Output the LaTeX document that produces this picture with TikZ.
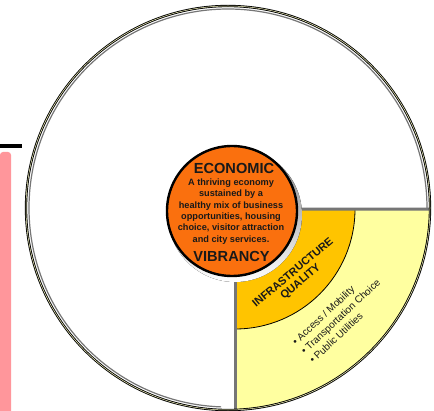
\documentclass[tikz,border=0pt]{standalone}
\usepackage{fontspec}
\setmainfont{Liberation Sans}
\usepackage{tikz}
\usetikzlibrary{positioning,calc}
\definecolor{tangerine}{RGB}{250,112,14}
\definecolor{gold}{RGB}{255,196,0}
\definecolor{pale}{RGB}{255,255,160}
\definecolor{rose}{RGB}{255,150,155}
\definecolor{slate}{RGB}{118,118,118}
\definecolor{shade}{RGB}{140,135,100}
\definecolor{ink}{RGB}{25,25,25}
\tikzset{
  rim/.style={draw=black,line width=0.9pt,double=pale!60,double distance=0.5pt},
  divider/.style={draw=slate,line width=3pt},
  hub/.style={circle,fill=tangerine,draw=black,line width=2.4pt,minimum size=130pt,inner sep=0pt},
  title/.style={font=\fontsize{14.6}{15}\selectfont\bfseries,text=ink,inner sep=0pt},
  blurb/.style={font=\fontsize{9.2}{11.4}\selectfont\bfseries,text=ink,align=center,inner sep=0pt},
  band label/.style={font=\fontsize{11}{11.8}\selectfont\bfseries,text=ink,align=center,inner sep=0pt},
  items/.style={font=\fontsize{10}{12.6}\selectfont,text=ink,align=left,inner sep=0pt},
}
\begin{document}
\begin{tikzpicture}[x=1pt,y=1pt]
  \useasboundingbox (0,0) rectangle (434,410);
  % side marks
  \fill[rose,rounded corners=3pt] (0,-5) rectangle (11,258);
  \fill[black] (0,262) rectangle (22,266);
  % wheel
  \coordinate (c) at (228,202);
  \coordinate (q) at (235,201);
  \fill[white] (c) circle (202);
  \begin{scope}
    \clip (c) circle (202);
    \fill[pale] (q) rectangle (440,-10);
  \end{scope}
  \fill[gold] (q) -- ++(120,0) arc[start angle=0,end angle=-90,radius=120] -- cycle;
  \draw[black,line width=0.8pt] ($(q)+(120,0)$) arc[start angle=0,end angle=-90,radius=120];
  \coordinate (east) at ($(c)+(-0.3:202)$);
  \coordinate (south) at ($(c)+(-88:202)$);
  \draw[divider] (q) -- (east);
  \draw[divider] (q) -- (q |- south);
  \draw[slate,line width=1.2pt] ($(c)+(0:199)$) arc[start angle=0,end angle=268,radius=199];
  \draw[rim] (c) circle (202);
  % hub
  \fill[shade] (235,195) circle (67);
  \node[hub] (eco) at (232,199) {};
  \node[title] (top) at (234,242) {ECONOMIC};
  \node[blurb] (text) at (231,198.5) {A thriving economy\\sustained by a\\healthy mix of business\\opportunities, housing\\choice, visitor attraction\\and city services.};
  \node[title] (bot) at (231.5,153.5) {VIBRANCY};
  % quadrant
  \node[band label,rotate=40] (infra) at (297,132.5) {INFRASTRUCTURE\\QUALITY};
  \node[items,rotate=43] (list) at (340.5,93.5) {\textbullet\ Access / Mobility\\\textbullet\ Transportation Choice\\\textbullet\ Public Utilities};
\end{tikzpicture}
\end{document}
